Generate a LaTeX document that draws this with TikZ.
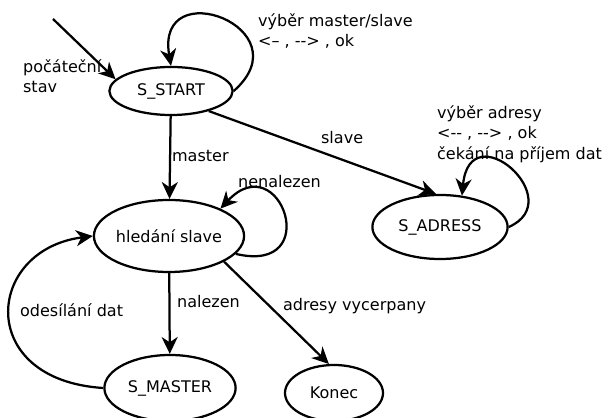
\documentclass[tikz,border=0pt]{standalone}
\usepackage{fontspec}
\setmainfont{DejaVu Sans}
\usetikzlibrary{arrows.meta,shapes.geometric}
\newcommand{\dvepomlcky}{-\kern0pt-}
\begin{document}
\begin{tikzpicture}[x=0.025cm,y=-0.025cm,
    line width=1.6pt,
    font=\fontsize{11.4}{14.6}\selectfont,
    stav/.style={draw,ellipse,inner sep=0pt},
    prechod/.style={-{Stealth[length=4.2mm,width=4mm,inset=1.3mm]}},
    popis/.style={anchor=west,align=left,inner sep=0pt}]
  \useasboundingbox (0,0) rectangle (603,418);
  % stavy
  \node[stav,minimum width=3.08cm,minimum height=1.2cm] (sstart) at (171,91) {S\_START};
  \node[stav,minimum width=3.68cm,minimum height=1.8cm] (hledani) at (169,236) {hledání slave};
  \node[stav,minimum width=3.28cm,minimum height=1.65cm] (smaster) at (170,388) {S\_MASTER};
  \node[stav,minimum width=2.45cm,minimum height=1.4cm] (konec) at (334,393) {Konec};
  \node[stav,minimum width=3.38cm,minimum height=1.6cm] (sadress) at (440,227) {S\_ADRESS};
  % prechody
  \coordinate (init) at (53,19);
  \draw[prechod] (init) -- (sstart.168);
  \node[popis] (lpoc) at (22,76) {počáteční\\stav};
  \draw[prechod] (sstart.east) .. controls (305,28) and (155,-28) .. (sstart.north);
  \node[popis] (lvyber) at (257,31) {výběr master/slave\\<– , \dvepomlcky> , ok};
  \draw[prechod] (sstart) -- (hledani);
  \node[popis] (lmaster) at (171,156) {master};
  \draw[prechod] (sstart.-28) -- (sadress.97);
  \node[popis] (lslave) at (320,138) {slave};
  \draw[prechod] (sadress.east) .. controls (570,200) and (470,112) .. (sadress.55);
  \node[popis] (ladresa) at (436,134) {výběr adresy\\<\dvepomlcky{} , \dvepomlcky> , ok\\čekání na příjem dat};
  \draw[prechod] (hledani.-15) .. controls (325,275) and (280,145) .. (hledani.28);
  \node[popis] (lnenal) at (237,182) {nenalezen};
  \draw[prechod] (hledani) -- (smaster);
  \node[popis] (lnal) at (176,302) {nalezen};
  \draw[prechod] (hledani.-25) -- (konec.100);
  \node[popis] (lvycer) at (282,306) {adresy vycerpany};
  \draw[prechod] (smaster.west) .. controls (-25,380) and (-15,250) .. (hledani.west);
  \node[popis] (lodes) at (19,310) {odesílání dat};
\end{tikzpicture}
\end{document}
